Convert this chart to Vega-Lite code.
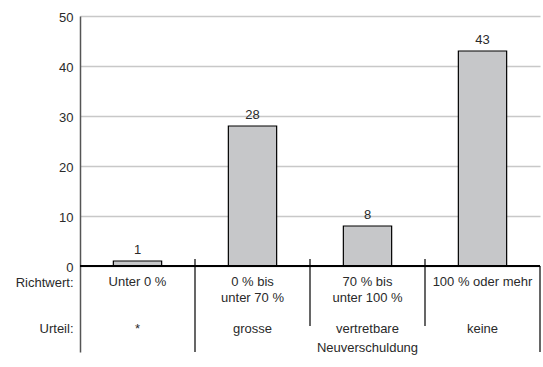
{
  "$schema": "https://vega.github.io/schema/vega-lite/v6.json",
  "autosize": {"type": "none"},
  "width": 460,
  "height": 336,
  "padding": {"left": 80, "top": 16, "right": 3, "bottom": 15},
  "background": "white",
  "config": {
    "view": {"stroke": null},
    "font": "Liberation Sans",
    "text": {"font": "Liberation Sans", "fontSize": 13, "color": "#2a2a2a"}
  },
  "data": {
    "values": [
      {"richtwert": "Unter 0 %", "urteil": "*", "wert": 1},
      {"richtwert": "0 % bis\nunter 70 %", "urteil": "grosse", "wert": 28},
      {"richtwert": "70 % bis\nunter 100 %", "urteil": "vertretbare\nNeuverschuldung", "wert": 8},
      {"richtwert": "100 % oder mehr", "urteil": "keine", "wert": 43}
    ]
  },
  "encoding": {
    "x": {"field": "richtwert", "type": "nominal", "sort": null, "axis": null,
          "scale": {"paddingInner": 0, "paddingOuter": 0}}
  },
  "layer": [
    {
      "mark": {"type": "bar", "fill": "#c6c7c9", "stroke": "#000000", "strokeWidth": 1.2, "width": {"band": 0.42}},
      "encoding": {
        "y": {"field": "wert", "type": "quantitative",
              "scale": {"domain": [-17.2, 50], "nice": false, "zero": false},
              "axis": {
                "title": null,
                "values": [0, 10, 20, 30, 40, 50, -3.1, -12.2],
                "labelExpr": "datum.value == -3.1 ? 'Richtwert:' : (datum.value < -5 ? 'Urteil:' : datum.label)",
                "ticks": false,
                "labelPadding": 7,
                "labelOffset": 1,
                "labelFontSize": 13,
                "labelColor": "#2a2a2a",
                "labelFont": "Liberation Sans",
                "domainColor": "#555555",
                "domainWidth": 1.5,
                "grid": true,
                "gridColor": "#c8c8c8",
                "gridWidth": 1.5,
                "gridOpacity": {"condition": {"test": "datum.value < 0", "value": 0}, "value": 1}
              }}
      }
    },
    {
      "mark": {"type": "text", "baseline": "alphabetic", "dy": -7},
      "encoding": {
        "y": {"field": "wert", "type": "quantitative"},
        "text": {"field": "wert", "type": "quantitative"}
      }
    },
    {
      "mark": {"type": "rule", "color": "#000000", "strokeWidth": 1.5},
      "encoding": {"x": null, "y": {"datum": 0}}
    },
    {
      "transform": [{"filter": "datum.richtwert == '0 % bis\\nunter 70 %'"}],
      "mark": {"type": "rule", "color": "#000000", "strokeWidth": 1.2},
      "encoding": {
        "x": {"field": "richtwert", "type": "nominal", "sort": null, "bandPosition": 0},
        "y": {"datum": 1.4}, "y2": {"datum": -17.2}
      }
    },
    {
      "transform": [{"filter": "datum.richtwert == '100 % oder mehr'"}],
      "mark": {"type": "rule", "color": "#000000", "strokeWidth": 1.2},
      "encoding": {
        "x": {"field": "richtwert", "type": "nominal", "sort": null, "bandPosition": 1},
        "y": {"datum": 0}, "y2": {"datum": -17.2}
      }
    },
    {
      "transform": [{"filter": "datum.richtwert == '70 % bis\\nunter 100 %' || datum.richtwert == '100 % oder mehr'"}],
      "mark": {"type": "rule", "color": "#000000", "strokeWidth": 1.2},
      "encoding": {
        "x": {"field": "richtwert", "type": "nominal", "sort": null, "bandPosition": 0},
        "y": {"datum": 1.4}, "y2": {"datum": -12}
      }
    },
    {
      "mark": {"type": "text", "baseline": "alphabetic", "lineBreak": "\n", "lineHeight": 16},
      "encoding": {
        "y": {"datum": -4.0},
        "text": {"field": "richtwert", "type": "nominal"}
      }
    },
    {
      "mark": {"type": "text", "baseline": "alphabetic", "lineBreak": "\n", "lineHeight": 19},
      "encoding": {
        "y": {"datum": -13.3},
        "text": {"field": "urteil", "type": "nominal"}
      }
    }
  ]
}
